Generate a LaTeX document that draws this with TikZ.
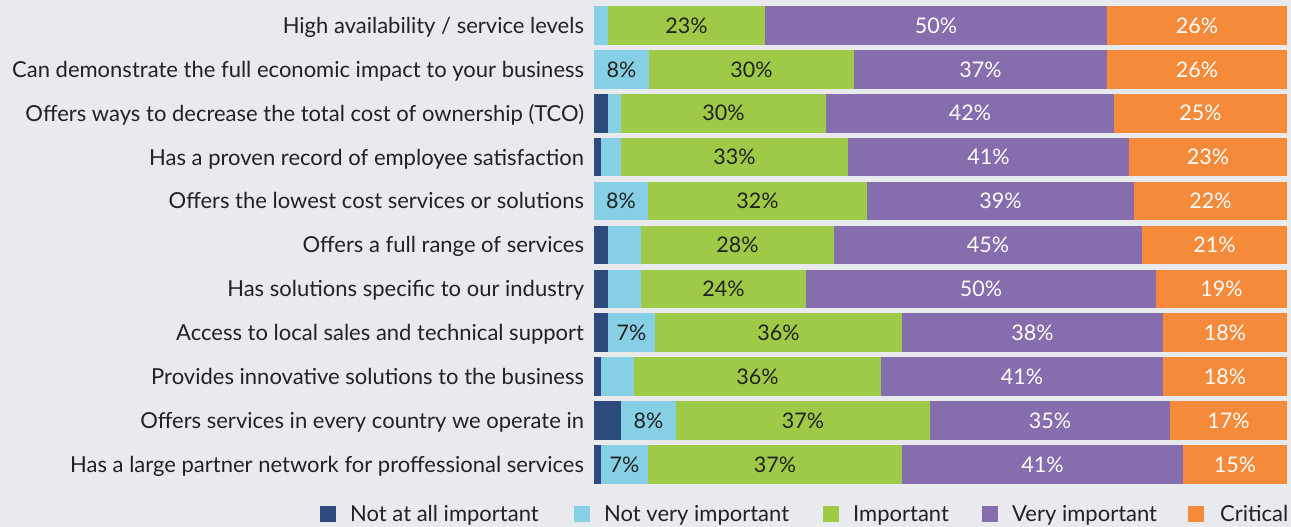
\documentclass[tikz,border=0pt]{standalone}
\usepackage{fontspec}
\setmainfont{Lato}
\definecolor{bg}{HTML}{E9EAEE}
\definecolor{cNA}{HTML}{2C4A7C}
\definecolor{cNV}{HTML}{86CFE4}
\definecolor{cIM}{HTML}{9FCA47}
\definecolor{cVI}{HTML}{866DAE}
\definecolor{cCR}{HTML}{F58A3B}
\definecolor{txt}{HTML}{222222}
\tikzset{
  seg/.style={draw=none,inner sep=0pt,outer sep=0pt,minimum height=38.7pt,anchor=west,
    font=\fontsize{21.5}{26}\selectfont,text height=15.5pt,text depth=0pt},
  rowlab/.style={inner sep=0pt,outer sep=0pt,anchor=east,text=txt,
    font=\fontsize{22}{26}\selectfont,text height=15.8pt,text depth=0pt},
  legbox/.style={draw=none,inner sep=0pt,minimum size=16pt},
  legtxt/.style={inner sep=0pt,anchor=west,text=txt,font=\fontsize{22}{26}\selectfont,text height=15.8pt,text depth=0pt}
}
\newcommand\barrow[9]{%
  \pgfmathsetmacro\myyy{25.35+43.92*(#1-1)}%
  \pgfmathsetmacro\mysega{#2-594}%
  \pgfmathsetmacro\mysegb{#3-#2}%
  \pgfmathsetmacro\mysegc{#4-#3}%
  \pgfmathsetmacro\mysegd{#5-#4}%
  \pgfmathsetmacro\mysege{1287-#5}%
  \node[seg,fill=cNA,minimum width=\mysega pt] (r#1a) at (594,\myyy) {};
  \node[seg,fill=cNV,minimum width=\mysegb pt,text=txt] (r#1b) at (#2,\myyy) {#6};
  \node[seg,fill=cIM,minimum width=\mysegc pt,text=txt] (r#1c) at (#3,\myyy) {#7};
  \node[seg,fill=cVI,minimum width=\mysegd pt,text=white] (r#1d) at (#4,\myyy) {#8};
  \node[seg,fill=cCR,minimum width=\mysege pt,text=white] (r#1e) at (#5,\myyy) {#9};
}
\begin{document}
\begin{tikzpicture}[x=1pt,y=-1pt]
\fill[bg] (0,0) rectangle (1291,527);
\useasboundingbox (0,0) rectangle (1291,527);
\barrow{1}{594}{608}{765}{1107}{}{23\%}{50\%}{26\%}
\barrow{2}{594}{649}{854}{1107}{8\%}{30\%}{37\%}{26\%}
\barrow{3}{608}{621}{826}{1114}{}{30\%}{42\%}{25\%}
\barrow{4}{601}{621}{848}{1129}{}{33\%}{41\%}{23\%}
\barrow{5}{594}{648}{867}{1134}{8\%}{32\%}{39\%}{22\%}
\barrow{6}{608}{641}{834}{1142}{}{28\%}{45\%}{21\%}
\barrow{7}{608}{641}{806}{1156}{}{24\%}{50\%}{19\%}
\barrow{8}{608}{655}{902}{1163}{7\%}{36\%}{38\%}{18\%}
\barrow{9}{601}{634}{881}{1163}{}{36\%}{41\%}{18\%}
\barrow{10}{621}{676}{930}{1170}{8\%}{37\%}{35\%}{17\%}
\barrow{11}{601}{648}{902}{1183}{7\%}{37\%}{41\%}{15\%}
\node[rowlab] (l1) at (584,25.35) {High availability / service levels};
\node[rowlab] (l2) at (584,69.27) {Can demonstrate the full economic impact to your business};
\node[rowlab] (l3) at (584,113.19) {Offers ways to decrease the total cost of ownership (TCO)};
\node[rowlab] (l4) at (584,157.11) {Has a proven record of employee satisfaction};
\node[rowlab] (l5) at (584,201.03) {Offers the lowest cost services or solutions};
\node[rowlab] (l6) at (584,244.95) {Offers a full range of services};
\node[rowlab] (l7) at (584,288.87) {Has solutions specific to our industry};
\node[rowlab] (l8) at (584,332.79) {Access to local sales and technical support};
\node[rowlab] (l9) at (584,376.71) {Provides innovative solutions to the business};
\node[rowlab] (l10) at (584,420.63) {Offers services in every country we operate in};
\node[rowlab] (l11) at (584,464.55) {Has a large partner network for proffessional services};
% legend
\node[legbox,fill=cNA] (k1) at (328,514) {};
\node[legtxt] (t1) at (350,514) {Not at all important};
\node[legbox,fill=cNV] (k2) at (582,514) {};
\node[legtxt] (t2) at (604,514) {Not very important};
\node[legbox,fill=cIM] (k3) at (831,514) {};
\node[legtxt] (t3) at (853,514) {Important};
\node[legbox,fill=cVI] (k4) at (990,514) {};
\node[legtxt] (t4) at (1012,514) {Very important};
\node[legbox,fill=cCR] (k5) at (1196,514) {};
\node[legtxt] (t5) at (1220,514) {Critical};
\end{tikzpicture}
\end{document}
